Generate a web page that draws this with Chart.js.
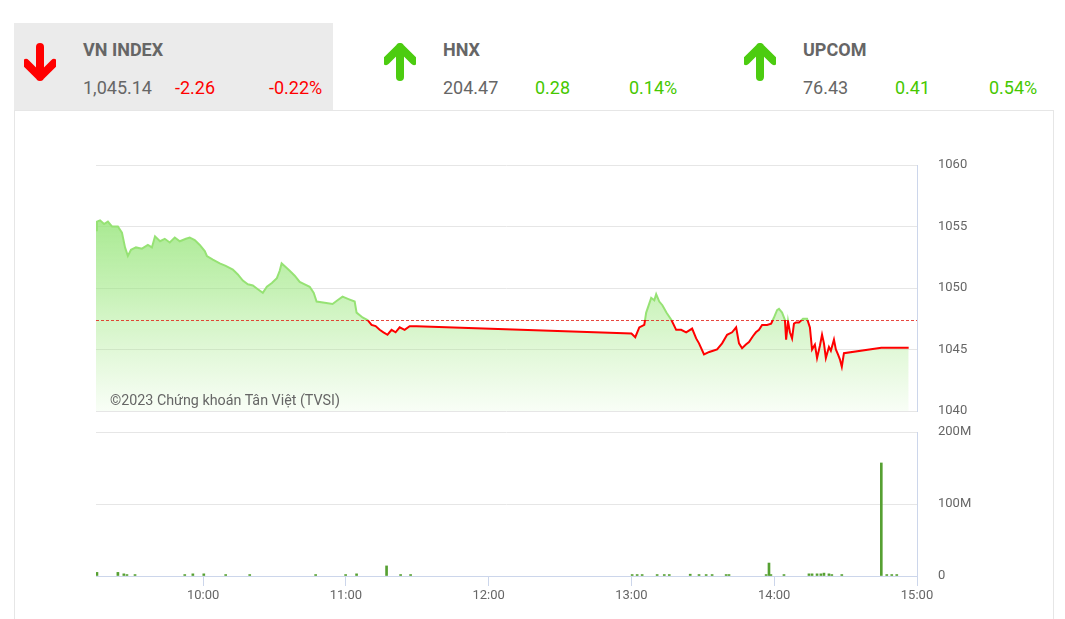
<!DOCTYPE html>
<html>
<head>
<meta charset="utf-8">
<script src="https://cdn.jsdelivr.net/npm/chart.js@4.4.0/dist/chart.umd.min.js"></script>
<style>
  body { margin: 0; background: #fff; font-family: Roboto, sans-serif; }
  .abs { position: absolute; }
  .box { position: absolute; left: 14px; top: 110px; width: 1038px; height: 540px; border: 1px solid #e6e6e6; }
  .hl { position: absolute; left: 14px; top: 23px; width: 319px; height: 87px; background: #ebebeb; }
  .t { position: absolute; font-size: 18px; line-height: 18px; color: #666; white-space: nowrap; }
  .b { font-weight: bold; }
  .up { color: #46c800; }
  .dn { color: #ff0000; }
  canvas { position: absolute; }
  .mark { position: absolute; left: 110px; top: 391px; font-size: 14.3px; line-height: 18px; color: #666; }
</style>
</head>
<body>
<div class="box"></div>
<div class="hl"></div>
<div id="hdr"></div>
<canvas id="price" width="891" height="266" style="left:96px;top:155px"></canvas>
<canvas id="vol" width="891" height="184" style="left:96px;top:422px"></canvas>
<div class="mark">©2023 Chứng khoán Tân Việt (TVSI)</div>
<script>
// index header
var idxNames = ['VN INDEX', 'HNX', 'UPCOM'];
var idxValues = ['1,045.14', '204.47', '76.43'];
var idxChanges = ['-2.26', '0.28', '0.41'];
var idxPercents = ['-0.22%', '0.14%', '0.54%'];

// intraday price, minutes since midnight
var priceTimes = [555.0, 555.4, 556.7, 558.4, 560.0, 561.7, 564.2, 565.9, 567.2, 568.4, 569.7, 571.8, 574.3, 576.8, 578.5,
  579.8, 581.9, 583.9, 586.0, 588.1, 590.2, 592.8, 594.4, 596.5, 598.6, 600.7, 601.6, 604.1, 607.0, 609.5, 612.5, 614.6,
  616.7, 618.8, 620.9, 623.0, 625.1, 626.8, 628.9, 631.0, 632.2, 633.0, 634.7, 636.4, 638.5, 640.6, 642.7, 644.8, 646.5,
  647.7, 651.1, 654.4, 656.5, 658.6, 661.1, 663.7, 664.5, 667.0, 669.1, 670.8, 672.5, 674.2, 675.8, 677.5, 679.2, 680.9,
  682.6, 684.7, 686.8, 689.7,
  780.0, 781.6, 783.3, 785.4, 786.2, 788.3, 789.6, 790.4, 791.7, 793.0, 794.7, 796.8, 798.8, 800.9, 803.0, 805.5, 807.2,
  808.4, 810.5, 812.7, 814.3, 816.0, 818.1, 820.2, 822.3, 824.0, 825.2, 826.5, 828.1, 829.4, 831.1, 832.3, 833.6, 834.9,
  837.0, 838.7, 839.9, 841.2, 842.0, 843.3, 844.5, 845.0, 845.8, 846.6, 847.5, 848.3, 849.1, 850.4, 852.1, 853.8, 855.0,
  855.9, 857.1, 858.0, 859.2, 860.1, 860.9, 861.7, 863.0, 863.8, 865.1, 865.9, 866.8, 867.6, 868.4, 869.3, 885.0, 896.5];
var priceValues = [1054.7, 1055.4, 1055.5, 1055.2, 1055.4, 1055.0, 1055.0, 1054.5, 1053.3, 1052.6, 1053.1, 1053.3, 1053.2,
  1053.5, 1053.3, 1054.2, 1053.8, 1054.0, 1053.7, 1054.1, 1053.8, 1054.0, 1054.1, 1053.9, 1053.5, 1053.0, 1052.6, 1052.3,
  1052.0, 1051.8, 1051.5, 1051.1, 1050.6, 1050.3, 1050.2, 1049.9, 1049.6, 1050.1, 1050.4, 1050.8, 1051.4, 1052.0, 1051.7,
  1051.4, 1051.0, 1050.5, 1050.3, 1050.1, 1049.6, 1048.9, 1048.8, 1048.7, 1049.0, 1049.3, 1049.1, 1048.9, 1048.0, 1047.6,
  1047.4, 1047.0, 1046.9, 1046.6, 1046.4, 1046.2, 1046.6, 1046.4, 1046.8, 1046.6, 1046.9, 1046.9,
  1046.3, 1046.0, 1046.8, 1047.0, 1048.0, 1049.2, 1049.0, 1049.5, 1048.9, 1048.6, 1048.0, 1047.4, 1046.6, 1046.6, 1046.4,
  1046.7, 1045.9, 1045.5, 1044.6, 1044.8, 1044.9, 1045.0, 1045.5, 1046.2, 1046.4, 1046.8, 1045.5, 1045.1, 1045.4, 1045.6,
  1046.1, 1046.4, 1046.6, 1047.0, 1047.0, 1047.1, 1047.6, 1048.2, 1048.3, 1048.0, 1047.4, 1045.8, 1047.3, 1046.4, 1045.9,
  1047.1, 1047.2, 1047.2, 1047.5, 1047.5, 1046.8, 1045.0, 1045.4, 1044.3, 1045.3, 1046.2, 1045.5, 1044.3, 1045.2, 1044.9,
  1045.8, 1045.0, 1044.6, 1044.2, 1043.6, 1044.7, 1045.14, 1045.14];
var refPrice = 1047.40;

// matched volume (millions)
var volTimes = [555.4, 564.2, 566.7, 568.0, 571.4, 592.3, 595.7, 600.3, 609.5, 619.6, 647.3, 659.9, 664.5, 677.1, 683.0,
  687.2, 780.3, 782.4, 784.5, 790.8, 793.8, 795.9, 804.7, 808.4, 811.4, 813.9, 819.8, 821.0, 836.6, 837.8, 838.6, 844.1,
  854.6, 855.9, 858.0, 859.6, 860.9, 863.0, 864.2, 868.4, 885.0, 887.3, 889.4, 891.5];
var volValues = [5, 5, 3, 2, 2, 2, 3, 3, 2, 2, 2, 2, 3, 14, 2, 2, 2, 2, 2, 2, 2, 2, 2.5, 2, 2, 2, 2, 2, 2, 18, 2, 2,
  3, 3, 3, 3, 4, 3, 2, 2, 157, 2, 2, 2];

var hourTicks = [600, 660, 720, 780, 840, 900];
var priceTicks = [1040, 1045, 1050, 1055, 1060];
var volTicks = [0, 100e6, 200e6];

var RED = '#ff0000';

// header blocks
var hdr = document.getElementById('hdr');
for (var i = 0; i < idxNames.length; i++) {
  var L = 14 + i * 360;
  var down = idxChanges[i].charAt(0) == '-';
  var cls = down ? 'dn' : 'up';
  var col = down ? '#ff0000' : '#4ccc10';
  var path = down ? 'M16 4 V34 M2 20 L16 34 L30 20' : 'M16 34 V4 M2 18 L16 4 L30 18';
  hdr.innerHTML +=
    '<svg class="abs" style="left:' + (L + 10) + 'px;top:43px" width="32" height="38">' +
    '<path d="' + path + '" fill="none" stroke="' + col + '" stroke-width="8" stroke-linecap="round" stroke-linejoin="round"/></svg>' +
    '<div class="t b" style="left:' + (L + 69) + 'px;top:41px">' + idxNames[i] + '</div>' +
    '<div class="t" style="left:' + (L + 69) + 'px;top:79px">' + idxValues[i] + '</div>' +
    '<div class="t ' + cls + '" style="left:' + (L + 161) + 'px;top:79px">' + idxChanges[i] + '</div>' +
    '<div class="t ' + cls + '" style="left:' + (L + 255) + 'px;top:79px">' + idxPercents[i] + '</div>';
}

function fmtTime(v) {
  var h = Math.floor(v / 60), m = Math.round(v % 60);
  return h + ':' + (m < 10 ? '0' + m : m);
}

var pricePts = priceTimes.map(function (t, i) { return { x: t, y: priceValues[i] }; });
var volPts = volTimes.map(function (t, i) { return { x: t, y: volValues[i] * 1e6 }; });

function lineColor(ctx) {
  var c = ctx.chart, a = c.chartArea;
  if (!a) return RED;
  var f = (c.scales.y.getPixelForValue(refPrice) - a.top) / (a.bottom - a.top);
  var g = c.ctx.createLinearGradient(0, a.top, 0, a.bottom);
  g.addColorStop(0, '#96e274');
  g.addColorStop(f, '#96e274');
  g.addColorStop(f, RED);
  g.addColorStop(1, RED);
  return g;
}

function fillColor(ctx) {
  var c = ctx.chart, a = c.chartArea;
  if (!a) return 'rgba(150,230,120,0.5)';
  var g = c.ctx.createLinearGradient(0, a.top, 0, a.bottom);
  g.addColorStop(0, 'rgba(138,225,108,0.95)');
  g.addColorStop(0.5, 'rgba(150,230,120,0.55)');
  g.addColorStop(1, 'rgba(165,235,135,0.08)');
  return g;
}

var refLine = {
  id: 'refLine',
  afterDatasetsDraw: function (chart) {
    var a = chart.chartArea, y = Math.round(chart.scales.y.getPixelForValue(refPrice)) + 0.5;
    var c = chart.ctx;
    c.save();
    c.strokeStyle = 'rgba(225,25,15,0.8)';
    c.lineWidth = 1;
    c.setLineDash([3, 2]);
    c.beginPath();
    c.moveTo(a.left, y);
    c.lineTo(a.right, y);
    c.stroke();
    c.restore();
  }
};

var axisFont = { family: 'Roboto', size: 13 };

// keep the plot area where the picture has it
function fixY(s) { s.width = 70; s.paddingTop = 10; s.paddingBottom = 10; }

new Chart(document.getElementById('price'), {
  type: 'line',
  data: {
    datasets: [{
      data: pricePts,
      borderColor: lineColor,
      backgroundColor: fillColor,
      borderWidth: 2,
      pointRadius: 0,
      fill: 'start',
      tension: 0
    }]
  },
  options: {
    responsive: false,
    animation: false,
    devicePixelRatio: 1,
    layout: { padding: { top: 10, bottom: 10, left: 0, right: 0 } },
    plugins: { legend: { display: false }, tooltip: { enabled: false } },
    scales: {
      x: { type: 'linear', min: 555, max: 900, display: false },
      y: {
        position: 'right', min: 1040, max: 1060,
        afterBuildTicks: function (s) { s.ticks = priceTicks.map(function (v) { return { value: v }; }); },
        afterFit: fixY,
        ticks: { padding: 21, color: '#666', font: axisFont, callback: function (v) { return String(v); } },
        grid: { color: '#e6e6e6', drawTicks: false },
        border: { color: '#ccd6eb' }
      }
    }
  },
  plugins: [refLine]
});

new Chart(document.getElementById('vol'), {
  type: 'bar',
  data: {
    datasets: [{
      data: volPts,
      backgroundColor: '#56a032',
      barThickness: 2
    }]
  },
  options: {
    responsive: false,
    animation: false,
    devicePixelRatio: 1,
    layout: { padding: { top: 10, bottom: 0, left: 0, right: 0 } },
    plugins: { legend: { display: false }, tooltip: { enabled: false } },
    scales: {
      x: {
        type: 'linear', min: 555, max: 900, offset: false,
        afterBuildTicks: function (s) { s.ticks = hourTicks.map(function (v) { return { value: v }; }); },
        afterFit: function (s) { s.height = 30; s.paddingLeft = 0; s.paddingRight = 0; },
        ticks: { padding: 2, color: '#666', font: axisFont, maxRotation: 0, autoSkip: false,
          callback: function (v) { return fmtTime(v); } },
        grid: { drawOnChartArea: false, drawTicks: true, tickLength: 10, color: '#ccd6eb', offset: false },
        border: { color: '#ccd6eb' }
      },
      y: {
        position: 'right', min: 0, max: 200e6,
        afterBuildTicks: function (s) { s.ticks = volTicks.map(function (v) { return { value: v }; }); },
        afterFit: fixY,
        ticks: { padding: 21, color: '#666', font: axisFont,
          callback: function (v) { return v == 0 ? '0' : (v / 1e6) + 'M'; } },
        grid: { color: function (c) { return c.tick && c.tick.value == 0 ? 'rgba(0,0,0,0)' : '#e6e6e6'; }, drawTicks: false },
        border: { color: '#ccd6eb' }
      }
    }
  }
});
</script>
</body>
</html>
